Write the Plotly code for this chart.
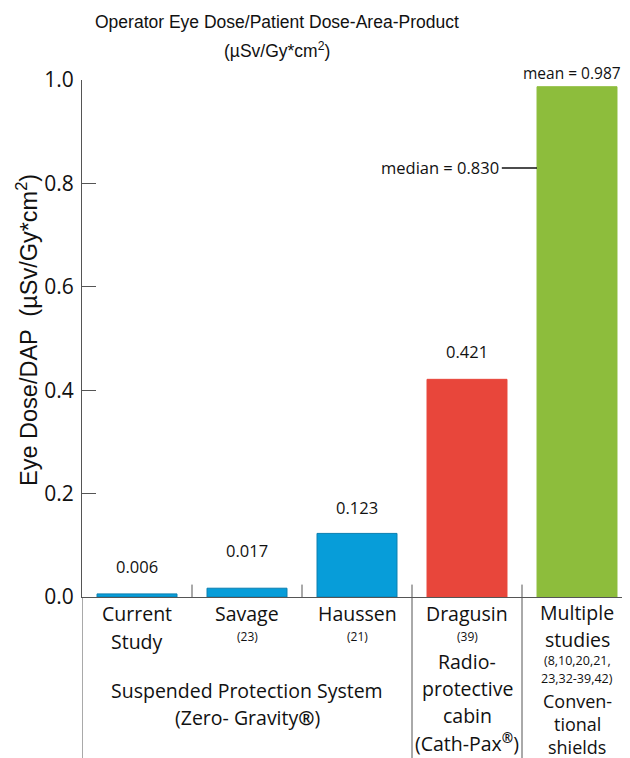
import plotly.graph_objects as go

# ---- data ----
categories = ["Current Study", "Savage", "Haussen", "Dragusin", "Multiple studies"]
values = [0.006, 0.017, 0.123, 0.421, 0.987]
value_labels = ["0.006", "0.017", "0.123", "0.421", "mean = 0.987"]
median_value = 0.830
median_label = "median = 0.830"
y_ticks = [0.0, 0.2, 0.4, 0.6, 0.8, 1.0]
y_ticktext = ["0.0", "0.2", "0.4", "0.6", "0.8", "1.0"]

# ---- style ----
bar_colors = ["#079DD9", "#079DD9", "#079DD9", "#E8463B", "#8DBD3C"]
bar_edges = ["#0A7FB0", "#0A7FB0", "#0A7FB0", "#E8463B", "#8DBD3C"]
label_yshift = [14, 24, 12, 14, 1]
label_xshift = [0, 0, 0, 0, -5]
label_size = [16.5, 16.5, 16.5, 16.5, 15.5]
AX = "#555555"
FONT = "Open Sans"
TFONT = "Liberation Sans"
TXT = "#111111"

x = list(range(len(categories)))
bar_w = 0.727

fig = go.Figure()
fig.add_trace(go.Bar(
    x=x, y=values, width=bar_w,
    marker=dict(color=bar_colors, line=dict(color=bar_edges, width=1)),
    hoverinfo="skip",
))

annotations = []
for xi, v, lab, ys, xs, fs in zip(x, values, value_labels, label_yshift, label_xshift, label_size):
    annotations.append(dict(x=xi, y=v, xref="x", yref="y", text=lab, showarrow=False,
                            yanchor="bottom", yshift=ys, xshift=xs,
                            font=dict(family=FONT, size=fs, color=TXT)))

med_x0 = x[4] - bar_w / 2 - 0.32
med_x1 = x[4] - bar_w / 2
shapes = [dict(type="line", xref="x", yref="y", x0=med_x0, x1=med_x1,
               y0=median_value, y1=median_value, line=dict(color="#111111", width=1.5))]
annotations.append(dict(x=med_x0, y=median_value, xref="x", yref="y", text=median_label,
                        showarrow=False, xanchor="right", xshift=-1,
                        font=dict(family=FONT, size=16.5, color=TXT)))

for b in [0.5, 1.5, 2.5, 3.5]:
    shapes.append(dict(type="line", xref="x", yref="y", x0=b, x1=b, y0=0, y1=0.024,
                       line=dict(color=AX, width=1)))
for b in [-0.5, 2.5, 3.5]:
    shapes.append(dict(type="line", xref="x", yref="paper", x0=b, x1=b, y0=0, y1=-0.32,
                       line=dict(color=AX, width=1)))

# pixel rows of the reference screenshot -> paper y (plot bottom at 597, height 517)
def py(pix):
    return (597 - pix) / 517.0

def cat(xi, text, pix, size=19.5):
    annotations.append(dict(x=xi, y=py(pix), xref="x", yref="paper", text=text,
                            showarrow=False, yanchor="middle", xanchor="center",
                            font=dict(family=FONT, size=size, color=TXT)))

cat(0, "Current", 613); cat(0, "Study", 641)
cat(1, "Savage", 613); cat(1, "(23)", 636, 12)
cat(2, "Haussen", 613); cat(2, "(21)", 636, 12)
cat(3, "Dragusin", 613); cat(3, "(39)", 636, 12)
cat(3, "Radio-", 661); cat(3, "protective", 688); cat(3, "cabin", 715)
cat(3, "(Cath-Pax<b><sup>®</sup></b>)", 742)
cat(4, "Multiple", 612); cat(4, "studies", 639)
cat(4, "(8,10,20,21,", 660, 12.5); cat(4, "23,32-39,42)", 678, 12.5)
cat(4, "Conven-", 701, 18); cat(4, "tional", 724, 18); cat(4, "shields", 747, 18)
cat(1, "Suspended Protection System", 690)
cat(1, "(Zero- Gravity<b>®</b>)", 717)

annotations.append(dict(x=(27 - 82) / 548, y=py(330), xref="paper", yref="paper",
                        xanchor="center", yanchor="middle",
                        text="Eye Dose/DAP  (µSv/Gy*cm<sup>2</sup>)", textangle=-90,
                        showarrow=False, font=dict(family="Liberation Sans", size=23.5, color=TXT)))
annotations.append(dict(x=(277 - 82) / 548, y=py(22), xref="paper", yref="paper",
                        xanchor="center", yanchor="middle",
                        text="Operator Eye Dose/Patient Dose-Area-Product", showarrow=False,
                        font=dict(family=TFONT, size=17.5, color=TXT)))
annotations.append(dict(x=(277 - 82) / 548, y=py(50), xref="paper", yref="paper",
                        xanchor="center", yanchor="middle",
                        text="(µSv/Gy*cm<sup>2</sup>)", showarrow=False,
                        font=dict(family=TFONT, size=17.5, color=TXT)))

# page body has an 8px margin: figure is 8px smaller and margins shifted accordingly
fig.update_layout(
    width=622, height=750,
    margin=dict(l=74, r=0, t=72, b=161),
    paper_bgcolor="white", plot_bgcolor="white",
    showlegend=False,
    shapes=shapes, annotations=annotations,
    xaxis=dict(range=[-0.5, -0.5 + 548 / 110], showgrid=False, zeroline=False,
               showticklabels=False, ticks="", showline=True, linecolor=AX, linewidth=1),
    yaxis=dict(range=[0, 1.0], tickvals=y_ticks, ticktext=y_ticktext, ticks="inside",
               ticklen=14, tickcolor=AX, tickwidth=1, showline=True, linecolor=AX,
               linewidth=1, showgrid=False, zeroline=False, ticklabelstandoff=3,
               tickfont=dict(family=FONT, size=21, color=TXT)),
)

fig.write_html("out.html")
